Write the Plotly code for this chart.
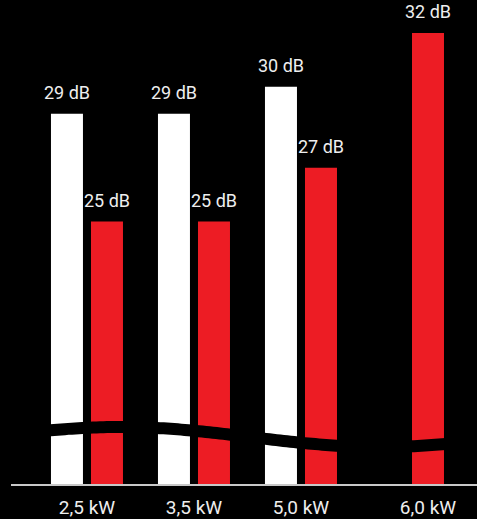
import numpy as np
import plotly.graph_objects as go

# ---- data ----
groups = ["2,5 kW", "3,5 kW", "5,0 kW", "6,0 kW"]
white_vals = [29, 29, 30, None]
red_vals = [25, 25, 27, 32]
unit = "dB"

WHITE = "#ffffff"
RED = "#ed1c24"
TEXT = "#eeeeee"
FONT = "Roboto"

OFF = 0.187   # bar offset from group centre
BW = 0.299    # bar width
Y0, Y1 = 15.26, 32.85

x_idx = np.arange(len(groups))
xw = [i - OFF for i in x_idx]
xr = [i + OFF for i in x_idx]

fig = go.Figure()
fig.add_trace(go.Bar(x=xw, y=white_vals, width=BW, marker=dict(color=WHITE, line=dict(width=0)),
                     showlegend=False, hoverinfo="skip"))
fig.add_trace(go.Bar(x=xr, y=red_vals, width=BW, marker=dict(color=RED, line=dict(width=0)),
                     showlegend=False, hoverinfo="skip"))

annotations = []
for xs, vals in ((xw, white_vals), (xr, red_vals)):
    for x, v in zip(xs, vals):
        if v is None:
            continue
        annotations.append(dict(x=x, y=v, xref="x", yref="y", text=f"{v} {unit}", showarrow=False,
                                yanchor="bottom", yshift=9,
                                font=dict(family=FONT, size=18, color=TEXT)))

# tick positions: group centre, or the remaining bar when a group has one bar
tickvals = [i if white_vals[i] is not None else xr[i] for i in x_idx]

# decorative axis-break wave across the bars (in axis units)
px_per_x = 107.0
px_per_y = 474.0 / (Y1 - Y0)
wx_px = np.linspace(40, 460, 120)
wy_px = 437 - 10 * np.cos(np.pi * (wx_px - 120) / 260)
wx = (wx_px - 87) / px_per_x
wy = Y0 + (484 - wy_px) / px_per_y
path = "M " + " L ".join(f"{a:.4f},{b:.4f}" for a, b in zip(wx, wy))

fig.update_layout(
    width=477, height=519,
    margin=dict(l=11, r=0, t=10, b=35),
    paper_bgcolor="#000000", plot_bgcolor="#000000",
    barmode="overlay",
    annotations=annotations,
    shapes=[dict(type="path", path=path, xref="x", yref="y",
                 line=dict(color="#000000", width=12), layer="above")],
    xaxis=dict(range=[-0.710, 3.645], tickvals=tickvals, ticktext=groups,
               showgrid=False, zeroline=False, showline=True, linecolor="#c8c8c8", linewidth=1.5,
               ticks="", ticklabelstandoff=5,
               tickfont=dict(family=FONT, size=19, color=TEXT), fixedrange=True),
    yaxis=dict(range=[Y0, Y1], visible=False, showgrid=False, zeroline=False, fixedrange=True),
)

fig.write_html("out.html", config={"displayModeBar": False},
               post_script="document.body.style.margin='0';document.body.style.background='#000';")
